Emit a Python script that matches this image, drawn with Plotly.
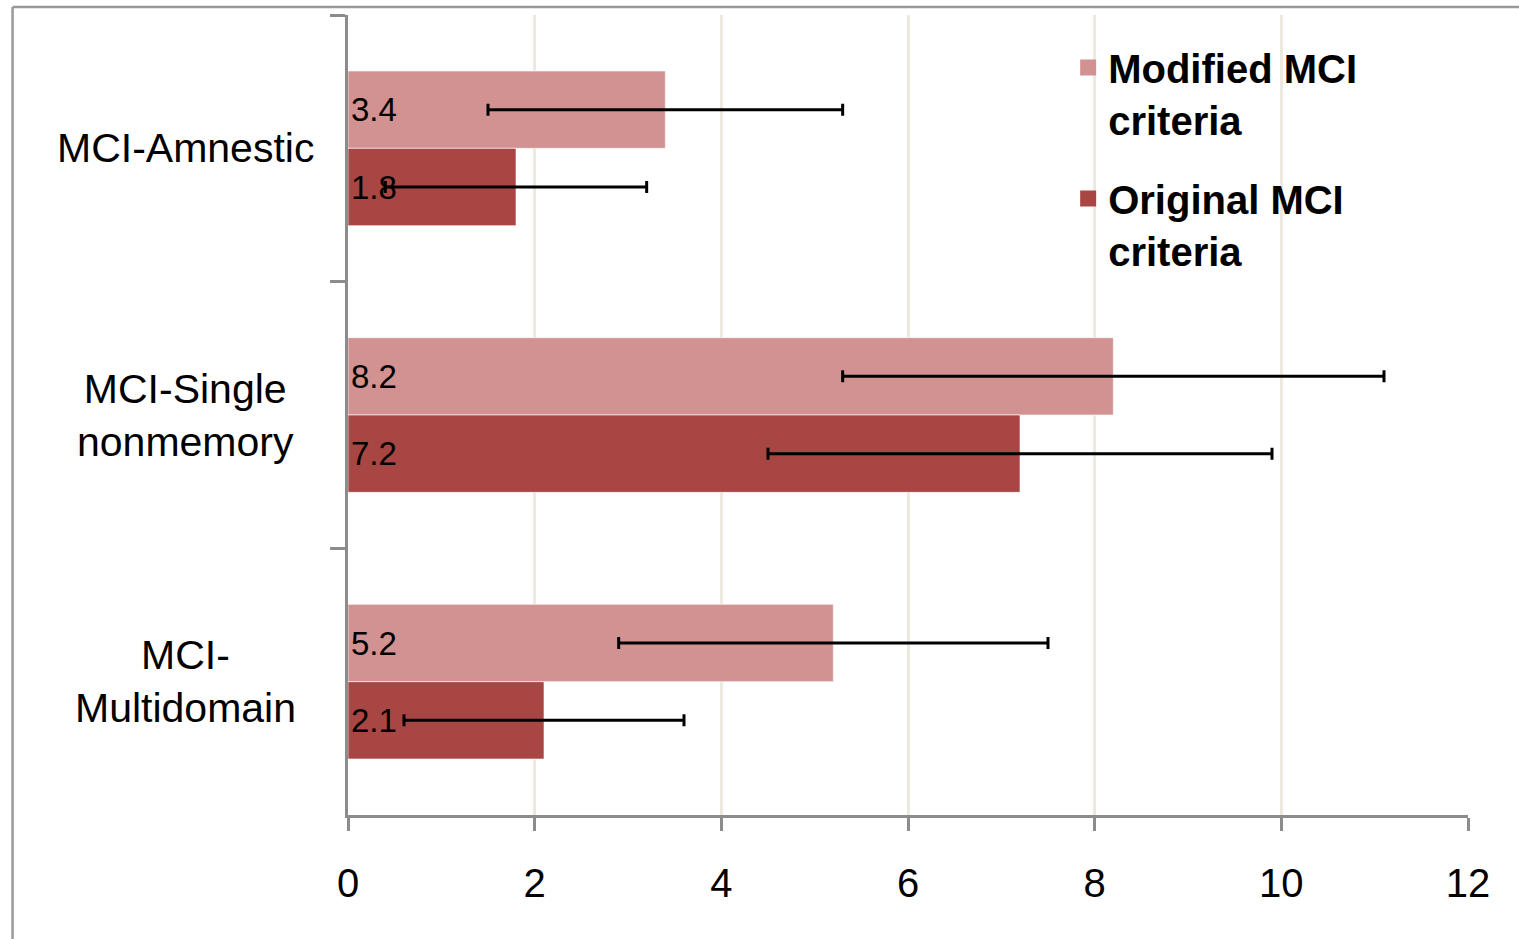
import plotly.graph_objects as go

categories = ["MCI-Amnestic", "MCI-Single<br>nonmemory", "MCI-<br>Multidomain"]
modified_values = [3.4, 8.2, 5.2]
original_values = [1.8, 7.2, 2.1]
modified_err = [1.9, 2.9, 2.3]
original_err = [1.4, 2.7, 1.5]
series_names = ["Modified MCI<br>criteria", "Original MCI<br>criteria"]
series_colors = ["#D29292", "#A84644"]
x_ticks = [0, 2, 4, 6, 8, 10, 12]

FONT = "Liberation Sans, Arial, sans-serif"
AXIS_GRAY = "#8C8C8C"

fig = go.Figure()
for i, (name, vals, errs) in enumerate([
    (series_names[0], modified_values, modified_err),
    (series_names[1], original_values, original_err),
]):
    color = series_colors[i]
    fig.add_trace(go.Bar(
        y=categories, x=vals, orientation="h", name=name,
        legendgroup=f"g{i}", showlegend=False,
        marker=dict(color=color, line=dict(color="rgba(255,255,255,0.6)", width=1)),
        error_x=dict(type="data", array=errs, visible=True, color="black",
                     thickness=3, width=6),
        text=[f"{v:.1f}" for v in vals], textposition="inside",
        insidetextanchor="start", constraintext="none",
        textfont=dict(family=FONT, size=33, color="black"),
        cliponaxis=False,
    ))
    # legend entry with a larger square swatch
    fig.add_trace(go.Scatter(
        x=[None], y=[None], mode="markers", name=name, legendgroup=f"g{i}",
        marker=dict(symbol="square", size=24, color=color),
        showlegend=True, hoverinfo="skip",
    ))

for c in categories:
    fig.add_annotation(x=-0.1455, xref="paper", y=c, yref="y", text=c,
                       showarrow=False, xanchor="center", yanchor="middle",
                       align="center", font=dict(family=FONT, size=41, color="black"))

# outer frame
fig.add_shape(type="line", xref="paper", yref="paper", x0=-0.2995, x1=1.2, y0=1.01, y1=1.01,
              line=dict(color="#999999", width=2.5))
fig.add_shape(type="line", xref="paper", yref="paper", x0=-0.2995, x1=-0.2995, y0=1.01, y1=-0.3,
              line=dict(color="#999999", width=2.5))

fig.update_layout(
    width=1519, height=939,
    margin=dict(l=348, r=51, t=15, b=124),
    paper_bgcolor="white", plot_bgcolor="white",
    barmode="group", bargap=0.42, bargroupgap=0,
    font=dict(family=FONT, color="black"),
    showlegend=True,
    legend=dict(x=0.643, y=0.975, xanchor="left", yanchor="top",
                font=dict(family=FONT, size=40, color="black", weight="bold"),
                valign="top", bgcolor="rgba(0,0,0,0)", tracegroupgap=24,
                traceorder="grouped", itemsizing="trace"),
    xaxis=dict(range=[0, 12], tickvals=x_ticks, ticktext=[str(t) for t in x_ticks],
               showgrid=True, gridcolor="#ECEADF", gridwidth=3,
               showline=True, linecolor=AXIS_GRAY, linewidth=3,
               ticks="outside", ticklen=13, tickwidth=3, tickcolor=AXIS_GRAY,
               tickfont=dict(family=FONT, size=40, color="black"),
               ticklabelstandoff=18,
               zeroline=False, fixedrange=True),
    yaxis=dict(type="category", categoryorder="array", categoryarray=categories,
               autorange="reversed", showgrid=False, showticklabels=False,
               showline=True, linecolor=AXIS_GRAY, linewidth=3,
               ticks="outside", tickson="boundaries", ticklen=15, tickwidth=3,
               tickcolor=AXIS_GRAY, zeroline=False, fixedrange=True),
)

fig.write_html("out.html", config={"displayModeBar": False},
               post_script="document.body.style.margin='0';document.body.style.overflow='hidden';")
